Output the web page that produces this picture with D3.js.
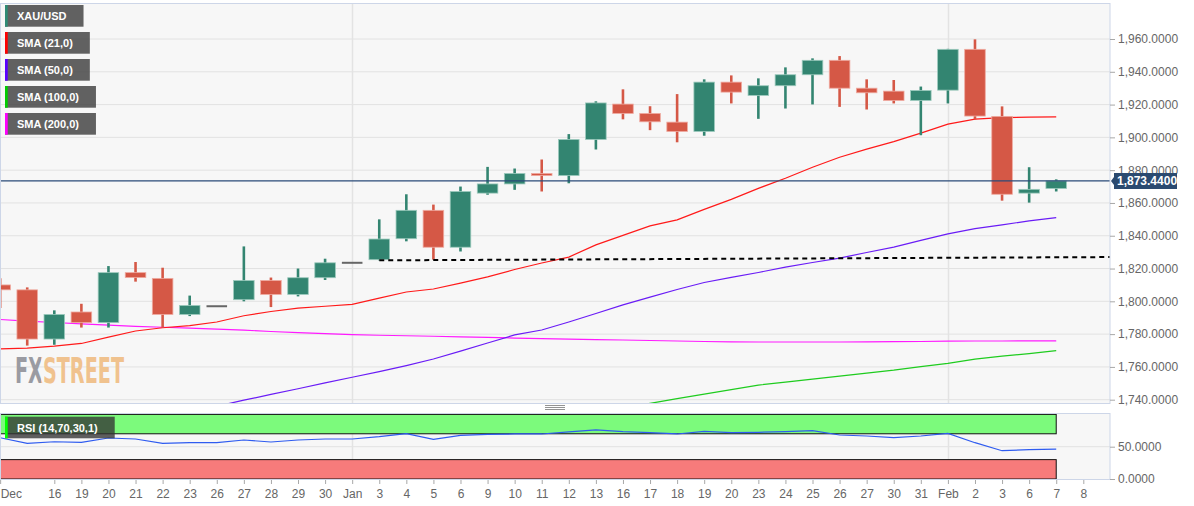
<!DOCTYPE html>
<html>
<head>
<meta charset="utf-8">
<script src="https://cdn.jsdelivr.net/npm/d3@7"></script>
<style>
  body { margin: 0; background: #fff; }
  svg { display: block; font-family: "Liberation Sans", Arial, sans-serif; }
</style>
</head>
<body>
<svg id="chart" width="1194" height="506"></svg>
<script>
// trading days shown (last slot Feb 8 has no candle yet)
const days = ["Dec 14","Dec 15","Dec 16","Dec 19","Dec 20","Dec 21","Dec 22","Dec 23","Dec 26","Dec 27","Dec 28","Dec 29","Dec 30",
  "Jan 2","Jan 3","Jan 4","Jan 5","Jan 6","Jan 9","Jan 10","Jan 11","Jan 12","Jan 13","Jan 16","Jan 17","Jan 18","Jan 19","Jan 20",
  "Jan 23","Jan 24","Jan 25","Jan 26","Jan 27","Jan 30","Jan 31","Feb 1","Feb 2","Feb 3","Feb 6","Feb 7","Feb 8"];
const tickLabels = ["Dec","","16","19","20","21","22","23","26","27","28","29","30","Jan","3","4","5","6","9","10","11","12","13",
  "16","17","18","19","20","23","24","25","26","27","30","31","Feb","2","3","6","7","8"];

const open  = [1810,1807,1777,1793.5,1787,1817.5,1814,1792,1797,1801,1812.7,1804.2,1814.4,1823.5,1825.4,1838.2,1855.5,1833,1866,1871.6,
  1878,1876.7,1898.7,1920.3,1914.6,1909.3,1903.6,1933.7,1925.6,1931.5,1938.2,1947,1930,1928.2,1922.5,1928.8,1953.7,1912.8,1866,1868.8];
const high  = [1814,1808.5,1794.5,1798.5,1821.5,1824,1820.5,1803.5,1797,1833.5,1814.5,1820,1826,1823.5,1850,1865.3,1859,1870,1882,1881,
  1886.5,1902,1922,1929.3,1919,1926.4,1935.4,1937.8,1936,1942.7,1948.2,1949.6,1935.4,1935,1931,1954,1959.8,1918.9,1881.8,1874.4];
const low   = [1796,1773,1773.5,1784,1784,1812,1784,1791,1797,1800,1796.5,1803,1813,1823.5,1825,1836.6,1825.4,1830.4,1865,1868,
  1867,1872,1892.6,1911,1904.4,1897,1901,1920.7,1911.3,1917.6,1920.1,1918.6,1917,1920.7,1901.3,1920.7,1911,1861.4,1860.2,1867];
const close = [1807,1777,1792,1787,1817.5,1814.5,1792,1797.5,1797,1812.7,1804.2,1814.4,1823.5,1823.5,1838,1855.5,1833,1867,1871.6,1878,
  1876.7,1898.7,1921,1914.6,1909.5,1903.6,1933.7,1927.6,1931.5,1938.2,1947,1930,1927.2,1922.5,1928.6,1953.7,1913,1865.3,1868.3,1873.44];
const lastPrice = 1873.44;

const sma21  = [1771.0,1771.5,1772.7,1774.3,1778.2,1781.9,1783.9,1785.2,1787.4,1791.2,1793.8,1795.9,1797.0,1798.1,1802.0,1805.7,1807.5,
  1811.1,1814.9,1819.4,1823.4,1827.0,1834.4,1840.2,1846.0,1849.7,1856.1,1862.2,1868.9,1875.1,1881.8,1887.9,1892.8,1897.4,1902.6,
  1908.1,1911.1,1912.0,1912.3,1912.5];
const sma50  = [null,null,null,null,null,null,null,null,1736.0,1739.7,1743.2,1746.7,1750.3,1753.7,1757.1,1760.8,1764.8,1769.6,1774.6,
  1779.5,1782.5,1787.4,1792.6,1797.8,1802.6,1807.2,1811.5,1814.6,1817.6,1820.9,1823.7,1826.4,1829.8,1833.1,1837.2,1841.1,1844.3,
  1846.6,1849.1,1851.0];
const sma100 = [null,null,null,null,null,null,null,null,null,null,null,null,null,null,null,null,null,null,null,null,null,null,null,
  1735.1,1737.8,1740.6,1743.4,1746.1,1748.9,1750.7,1752.5,1754.4,1756.2,1758.0,1760.2,1762.2,1764.8,1766.6,1768.1,1769.9];
const sma200 = [1788.9,1787.9,1787.1,1786.3,1785.5,1784.7,1784.2,1783.6,1783.1,1782.4,1781.6,1780.9,1780.3,1779.7,1779.3,1779.0,1778.7,
  1778.3,1778.0,1777.6,1777.3,1777.0,1776.7,1776.4,1776.1,1775.8,1775.5,1775.3,1775.2,1775.2,1775.2,1775.2,1775.3,1775.4,1775.5,
  1775.7,1775.8,1775.8,1775.9,1775.9];
const rsi = [63.9,55.3,57.7,56.8,63.5,61.9,55.3,56.2,56.2,60.4,57.3,60.4,61.9,61.9,65.5,70.1,61.5,67.6,69.2,69.7,69.7,72.8,75.9,73.2,
  71.7,69.7,73.8,71.7,72.3,73.2,74.8,68.1,66.6,63.9,66.6,70.7,56.2,43.8,45.4,46.4];

// dashed support line (start slot, end slot past the last day)
const supportIdx = [14, 40.98];
const supportVal = [1825.0, 1827.0];

const legendNames  = ["XAU/USD","SMA (21,0)","SMA (50,0)","SMA (100,0)","SMA (200,0)"];
const legendColors = ["#2e8b74","#ff0000","#5a00ff","#00cc00","#ff00ff"];

const svg = d3.select("#chart");
const mainTop = 3, mainBottom = 404, plotRight = 1110, rsiTop = 413, rsiBottom = 480;

const x = d3.scaleLinear().domain([0, 40]).range([0.15, 1083.3]);
const y = d3.scaleLinear().domain([1740, 1960]).range([399.7, 39]);
const yR = d3.scaleLinear().domain([0, 100]).range([479, 414.4]);

// panel backgrounds
svg.append("rect").attr("x", 0).attr("y", mainTop).attr("width", plotRight).attr("height", mainBottom - mainTop).attr("fill", "#f7f7f7");
svg.append("rect").attr("x", 0).attr("y", rsiTop).attr("width", plotRight).attr("height", rsiBottom - rsiTop).attr("fill", "#f7f7f7");

const defs = svg.append("defs");
defs.append("clipPath").attr("id", "clipMain")
  .append("rect").attr("x", 0).attr("y", mainTop).attr("width", plotRight).attr("height", mainBottom - mainTop);

// two-tone logo fill (FX grey, STREET orange)
const lgGrad = defs.append("linearGradient").attr("id", "logoFill").attr("gradientUnits", "userSpaceOnUse")
  .attr("x1", 15).attr("x2", 124).attr("y1", 0).attr("y2", 0);
lgGrad.append("stop").attr("offset", 0).attr("stop-color", "#9a9ba2");
lgGrad.append("stop").attr("offset", 0.235).attr("stop-color", "#9a9ba2");
lgGrad.append("stop").attr("offset", 0.235).attr("stop-color", "#f0c28e");
lgGrad.append("stop").attr("offset", 1).attr("stop-color", "#f0c28e");

// grid
const yTicks = d3.range(1740, 1961, 20);
svg.append("g").selectAll("line").data(yTicks).join("line")
  .attr("x1", 0).attr("x2", plotRight).attr("y1", d => y(d)).attr("y2", d => y(d))
  .attr("stroke", "#e2e2e2").attr("stroke-width", 1);
svg.append("line").attr("x1", 0).attr("x2", plotRight).attr("y1", yR(50)).attr("y2", yR(50)).attr("stroke", "#e2e2e2");
const monthIdx = [tickLabels.indexOf("Jan"), tickLabels.indexOf("Feb")];
monthIdx.forEach(i => {
  const gx = Math.round(x(i)) + 0.5;
  svg.append("line").attr("x1", gx).attr("x2", gx).attr("y1", mainTop).attr("y2", mainBottom).attr("stroke", "#e3e3e3").attr("stroke-width", 1.5);
  svg.append("line").attr("x1", gx).attr("x2", gx).attr("y1", rsiTop).attr("y2", rsiBottom).attr("stroke", "#e3e3e3").attr("stroke-width", 1.5);
});

// logo
svg.append("text").attr("x", 15).attr("y", 383).attr("textLength", 109).attr("lengthAdjust", "spacingAndGlyphs")
  .attr("font-family", "'Liberation Sans Narrow', 'DejaVu Sans Condensed', sans-serif").attr("font-weight", "bold")
  .attr("font-size", 36).attr("fill", "url(#logoFill)").text("FXSTREET");

const plot = svg.append("g").attr("clip-path", "url(#clipMain)");

// moving averages
const line = d3.line().defined(d => d != null).x((d, i) => x(i)).y(d => y(d));
[[sma200, "#ff1aff"], [sma100, "#1fcc1f"], [sma50, "#6a1cf6"], [sma21, "#ff1a1a"]].forEach(([s, c]) => {
  plot.append("path").datum(s).attr("d", line).attr("fill", "none").attr("stroke", c).attr("stroke-width", 1.2);
});

// candles
const step = x(1) - x(0);
const bodyW = step * 0.76;
const candles = d3.range(close.length).map(i => ({ i, o: open[i], h: high[i], l: low[i], c: close[i] }));
const cg = plot.append("g").selectAll("g").data(candles).join("g");
const colOf = d => d.c > d.o ? "#338571" : d.c < d.o ? "#d55846" : "#666";
cg.filter(d => d.c !== d.o).append("line")
  .attr("x1", d => x(d.i)).attr("x2", d => x(d.i)).attr("y1", d => y(d.h)).attr("y2", d => y(d.l))
  .attr("stroke", colOf).attr("stroke-width", 2.6);
cg.filter(d => d.c !== d.o).append("rect")
  .attr("x", d => x(d.i) - bodyW / 2).attr("width", bodyW)
  .attr("y", d => y(Math.max(d.o, d.c))).attr("height", d => Math.max(2, Math.abs(y(d.o) - y(d.c))))
  .attr("fill", colOf)
  .attr("stroke", d => d.c > d.o ? "#9ccabd" : "#efaaa0").attr("stroke-width", 0.8);
cg.filter(d => d.c === d.o).append("line")
  .attr("x1", d => x(d.i) - bodyW / 2).attr("x2", d => x(d.i) + bodyW / 2)
  .attr("y1", d => y(d.c)).attr("y2", d => y(d.c))
  .attr("stroke", "#666").attr("stroke-width", 2);

// support line
plot.append("line")
  .attr("x1", x(supportIdx[0])).attr("x2", x(supportIdx[1]))
  .attr("y1", y(supportVal[0])).attr("y2", y(supportVal[1]))
  .attr("stroke", "#000").attr("stroke-width", 2).attr("stroke-dasharray", "5,4");

// last price line
svg.append("line").attr("x1", 0).attr("x2", plotRight).attr("y1", y(lastPrice)).attr("y2", y(lastPrice))
  .attr("stroke", "#2a4b78").attr("stroke-width", 1.2);

// RSI bands + line
svg.append("rect").attr("x", 0).attr("width", x(39)).attr("y", yR(100)).attr("height", yR(70) - yR(100))
  .attr("fill", "#7cfa7c").attr("stroke", "#111").attr("stroke-width", 1);
svg.append("rect").attr("x", 0).attr("width", x(39)).attr("y", yR(30)).attr("height", yR(0) - yR(30))
  .attr("fill", "#f77b7b").attr("stroke", "#111").attr("stroke-width", 1);
svg.append("path").datum(rsi).attr("d", d3.line().x((d, i) => x(i)).y(d => yR(d)))
  .attr("fill", "none").attr("stroke", "#2f5cf0").attr("stroke-width", 1.2);

// panel borders
[[mainTop, mainBottom], [rsiTop, rsiBottom]].forEach(([t, b]) => {
  svg.append("rect").attr("x", 0.5).attr("y", t + 0.5).attr("width", plotRight - 0.5).attr("height", b - t - 1)
    .attr("fill", "none").attr("stroke", "#cdd6e8").attr("stroke-width", 1);
});

// axes
function styleAxis(g) {
  g.select(".domain").remove();
  g.selectAll(".tick line").attr("stroke", "#a8a8a8");
  g.selectAll(".tick text").attr("fill", "#666").attr("font-size", 12).attr("font-family", "'Liberation Sans', Arial, sans-serif");
}
svg.append("g").attr("transform", `translate(${plotRight},0)`)
  .call(d3.axisRight(y).tickValues(yTicks).tickFormat(d3.format(",.4f")).tickSize(5).tickPadding(3))
  .call(styleAxis);
svg.append("g").attr("transform", `translate(${plotRight},0)`)
  .call(d3.axisRight(yR).tickValues([0, 50]).tickFormat(d3.format(",.4f")).tickSize(5).tickPadding(3))
  .call(styleAxis);
const xg = svg.append("g").attr("transform", `translate(0,${rsiBottom})`)
  .call(d3.axisBottom(x).tickValues(d3.range(days.length).filter(i => tickLabels[i] !== ""))
    .tickFormat(i => tickLabels[i]).tickSize(4).tickPadding(5))
  .call(styleAxis);
xg.selectAll(".tick text").filter(i => i === 0).attr("text-anchor", "start").attr("x", 0);

// splitter grip
[405.5, 407.5, 409.5].forEach(gy => {
  svg.append("line").attr("x1", 545).attr("x2", 565).attr("y1", gy).attr("y2", gy).attr("stroke", "#777").attr("stroke-width", 0.8);
});

// legends
const lg = svg.append("g").selectAll("g").data(legendNames).join("g")
  .attr("transform", (d, i) => `translate(5,${5 + i * 27})`);
lg.append("rect").attr("class", "bg").attr("height", 21.7).attr("fill", "#444").attr("opacity", 0.84);
lg.append("rect").attr("width", 2.7).attr("height", 21.7).attr("fill", (d, i) => legendColors[i]);
lg.append("text").attr("x", 12).attr("y", 15.3).attr("fill", "#fff").attr("font-size", 11).attr("font-weight", "bold").text(d => d);
lg.each(function () {
  const w = d3.select(this).select("text").node().getComputedTextLength();
  d3.select(this).select(".bg").attr("width", w + 29);
});

// RSI legend
const rl = svg.append("g").attr("transform", "translate(5,416.7)");
rl.append("rect").attr("class", "bg").attr("height", 21.6).attr("fill", "#333").attr("opacity", 0.78);
rl.append("rect").attr("width", 2.7).attr("height", 21.6).attr("fill", "#00ff00");
const rt = rl.append("text").attr("x", 12).attr("y", 15.3).attr("fill", "#fff").attr("font-size", 11).attr("font-weight", "bold").text("RSI (14,70,30,1)");
rl.select(".bg").attr("width", rt.node().getComputedTextLength() + 29);

// last price tag
const py = y(lastPrice);
svg.append("path")
  .attr("d", `M${plotRight + 1},${py} L${plotRight + 4},${py - 4} L${plotRight + 4},${py - 8} L${plotRight + 67},${py - 8} L${plotRight + 67},${py + 8} L${plotRight + 4},${py + 8} L${plotRight + 4},${py + 4} Z`)
  .attr("fill", "#2b4a70");
svg.append("text").attr("x", plotRight + 7).attr("y", py + 4.3).attr("fill", "#fff").attr("font-size", 12).attr("font-weight", "bold")
  .text(d3.format(",.4f")(lastPrice));
</script>
</body>
</html>
